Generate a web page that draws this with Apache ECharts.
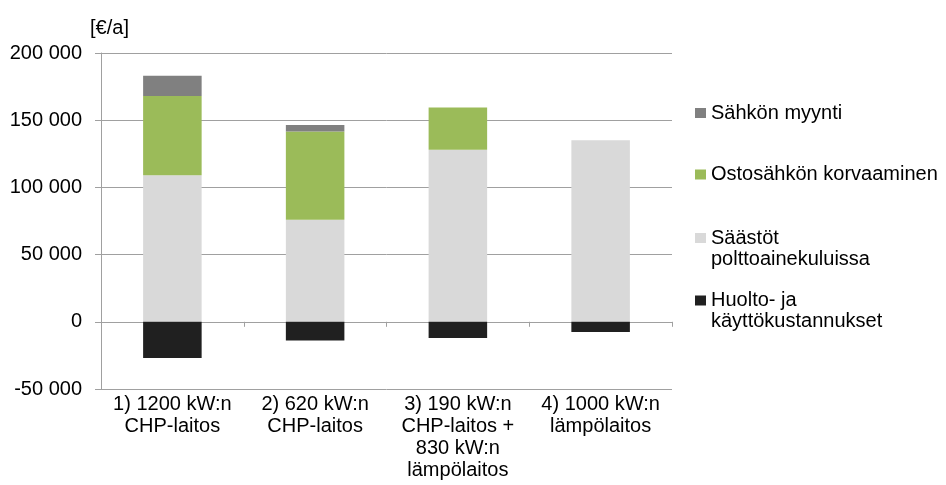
<!DOCTYPE html>
<html>
<head>
<meta charset="utf-8">
<script src="https://cdn.jsdelivr.net/npm/echarts@6/dist/echarts.min.js"></script>
<style>
html,body{margin:0;padding:0;background:#fff;}
#chart{width:946px;height:485px;}
</style>
</head>
<body>
<div id="chart"></div>
<script>
const categories = [
  '1) 1200 kW:n\nCHP-laitos',
  '2) 620 kW:n\nCHP-laitos',
  '3) 190 kW:n\nCHP-laitos +\n830 kW:n\nlämpölaitos',
  '4) 1000 kW:n\nlämpölaitos'
];
const seriesNames = ['Sähkön myynti', 'Ostosähkön korvaaminen', 'Säästöt\npolttoainekuluissa', 'Huolto- ja\nkäyttökustannukset'];
const saastotPolttoaine = [109000, 76000, 128000, 135000];
const ostosahkonKorvaaminen = [59000, 65500, 31500, 0];
const sahkonMyynti = [15000, 5000, 0, 0];
const huoltoKaytto = [-27000, -14000, -12000, -7500];
const yTicks = [-50000, 0, 50000, 100000, 150000, 200000];
const yTickLabels = ['-50 000', '0', '50 000', '100 000', '150 000', '200 000'];
const axisTitle = '[€/a]';

const FONT = '"Liberation Sans", Arial, sans-serif';
const GRID = '#a0a0a0';
const colors = {
  'Sähkön myynti': '#808080',
  'Ostosähkön korvaaminen': '#9bbb59',
  'Säästöt\npolttoainekuluissa': '#d9d9d9',
  'Huolto- ja\nkäyttökustannukset': '#202020'
};

function legendAt(name, top, twoLine) {
  return {
    data: [{ name: name }],
    orient: 'vertical',
    left: 695,
    top: top,
    padding: 0,
    itemWidth: 11,
    itemHeight: 10,
    icon: 'rect',
    selectedMode: false,
    formatter: function (n) { return twoLine ? '\n' + n : n; },
    textStyle: {
      fontFamily: FONT,
      fontSize: 20,
      lineHeight: 21,
      color: '#000'
    }
  };
}

const chart = echarts.init(document.getElementById('chart'), null, { renderer: 'canvas' });
const option = {
  animation: false,
  backgroundColor: '#fff',
  grid: { left: 101, right: 274, top: 53, bottom: 96, containLabel: false },
  legend: [
    legendAt(seriesNames[0], 102.5, false),
    legendAt(seriesNames[1], 164, false),
    legendAt(seriesNames[2], 206.5, true),
    legendAt(seriesNames[3], 269, true)
  ],
  xAxis: [
    {
      type: 'category',
      data: categories,
      axisLine: { onZero: true, lineStyle: { color: GRID, width: 1 } },
      axisTick: { show: true, length: 5, lineStyle: { color: GRID } },
      axisLabel: { show: false },
      splitLine: { show: false }
    },
    {
      type: 'category',
      data: categories,
      position: 'bottom',
      axisLine: { show: false, onZero: false },
      axisTick: { show: false },
      axisLabel: {
        interval: 0,
        margin: 4,
        fontFamily: FONT,
        fontSize: 20,
        lineHeight: 22,
        color: '#000'
      },
      splitLine: { show: false }
    }
  ],
  yAxis: {
    type: 'value',
    min: yTicks[0],
    max: yTicks[yTicks.length - 1],
    interval: 50000,
    name: axisTitle,
    nameLocation: 'end',
    nameGap: 15,
    nameTextStyle: { fontFamily: FONT, fontSize: 20, color: '#000', padding: [0, 0, 0, 17] },
    axisLine: { show: true, lineStyle: { color: GRID, width: 1 } },
    axisTick: { show: true, length: 6, lineStyle: { color: GRID } },
    axisLabel: {
      margin: 19,
      fontFamily: FONT,
      fontSize: 20,
      color: '#000',
      formatter: function (v) {
        const i = yTicks.indexOf(v);
        return i >= 0 ? yTickLabels[i] : '';
      }
    },
    splitLine: { show: true, lineStyle: { color: GRID, width: 1 } }
  },
  series: [
    { name: seriesNames[2], type: 'bar', stack: 'total', data: saastotPolttoaine, barWidth: '41%', itemStyle: { color: colors[seriesNames[2]] } },
    { name: seriesNames[1], type: 'bar', stack: 'total', data: ostosahkonKorvaaminen, barWidth: '41%', itemStyle: { color: colors[seriesNames[1]] } },
    { name: seriesNames[0], type: 'bar', stack: 'total', data: sahkonMyynti, barWidth: '41%', itemStyle: { color: colors[seriesNames[0]] } },
    { name: seriesNames[3], type: 'bar', stack: 'total', data: huoltoKaytto, barWidth: '41%', itemStyle: { color: colors[seriesNames[3]] } }
  ]
};
chart.setOption(option);
</script>
</body>
</html>
